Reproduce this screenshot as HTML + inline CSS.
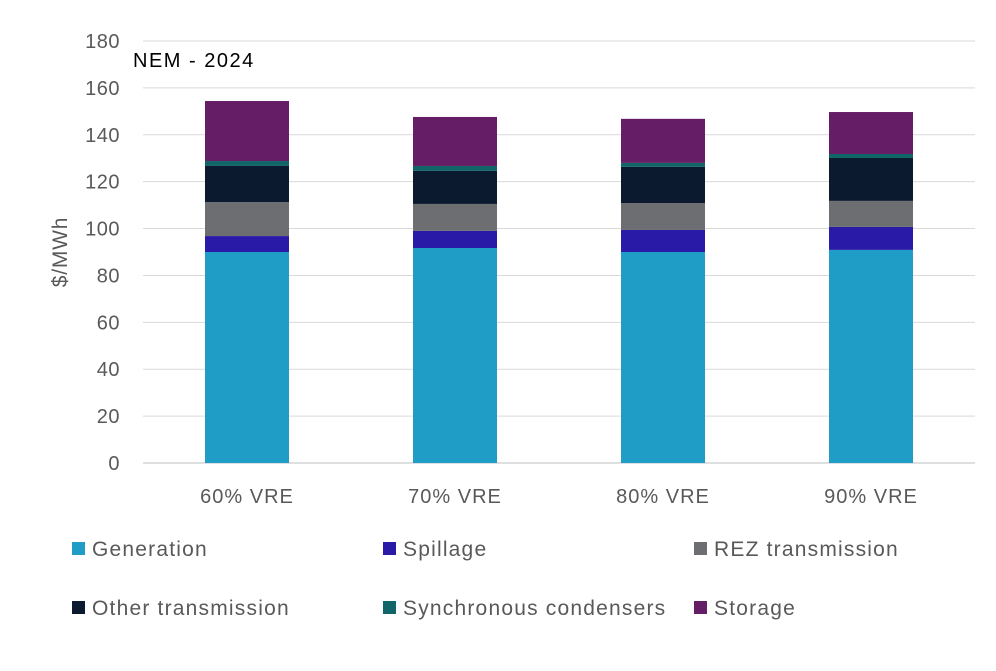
<!DOCTYPE html>
<html><head><meta charset="utf-8"><style>
body{margin:0;background:#fff;}
svg text{font-family:"Liberation Sans",sans-serif;}
</style></head><body>
<svg width="996" height="666" xmlns="http://www.w3.org/2000/svg" id="chart">
<g id="grid"></g><g id="bars"></g><g id="labels"></g>
<text x="133" y="67" font-size="20" letter-spacing="1.5" fill="#000">NEM - 2024</text>
<text transform="translate(67,252) rotate(-90)" text-anchor="middle" font-size="21" letter-spacing="0.8" fill="#595959">$/MWh</text>
<g id="legend"></g>
</svg>
<script>
const categories=["60% VRE","70% VRE","80% VRE","90% VRE"];
const seriesNames=["Generation","Spillage","REZ transmission","Other transmission","Synchronous condensers","Storage"];
const generation=[90,91.7,90,90.9];
const spillage=[6.8,7.3,9.4,9.8];
const rezTransmission=[14.5,11.5,11.5,11.1];
const otherTransmission=[15.4,14.1,15.4,18.3];
const syncCondensers=[2.1,2.1,1.7,1.7];
const storage=[25.6,20.9,18.8,17.9];
const yTicks=[0,20,40,60,80,100,120,140,160,180];
const series=[generation,spillage,rezTransmission,otherTransmission,syncCondensers,storage];
const colors=["#1f9dc6","#2a1aa8","#6d6e72","#0b1a2e","#116468","#651d66"];
const NS="http://www.w3.org/2000/svg";
const x0=143,x1=975,yBase=463,yTop=41;
const y=v=>yBase-(v/180)*(yBase-yTop);
const band=(x1-x0)/categories.length;
const xc=i=>x0+band*(i+0.5);
const bw=84;
function mk(t,a,p){const e=document.createElementNS(NS,t);for(const k in a)e.setAttribute(k,a[k]);p.appendChild(e);return e;}
const grid=document.getElementById('grid');
yTicks.forEach(t=>{
  const l=mk('line',{x1:x0,x2:x1,y1:y(t),y2:y(t),stroke:t===0?'#bfbfbf':'#d9d9d9','stroke-width':1},grid);
  
  
  const tx=mk('text',{x:120,y:y(t)+7,'text-anchor':'end','font-size':20,'letter-spacing':0.5,fill:'#595959'},grid);
  tx.textContent=t;
  
  
});
const bars=document.getElementById('bars');
categories.forEach((c,i)=>{
  let cum=0;
  series.forEach((s,j)=>{
    const r=mk('rect',{x:xc(i)-bw/2,y:y(cum+s[i]),width:bw,height:y(cum)-y(cum+s[i]),fill:colors[j]},bars);
    
    
    cum+=s[i];
  });
  const tx=mk('text',{x:xc(i),y:503,'text-anchor':'middle','font-size':20,'letter-spacing':1,fill:'#595959'},document.getElementById('labels'));
  tx.textContent=c;
  
  
});
const lg=document.getElementById('legend');
const lx=[72,383,694],ly=[549,608];
seriesNames.forEach((n,j)=>{
  const X=lx[j%3],Y=ly[Math.floor(j/3)];
  const g=mk('g',{},lg);
  
  
  mk('rect',{x:X,y:Y-7,width:13,height:13,fill:colors[j]},g);
  const t=mk('text',{x:X+20,y:Y+7,'font-size':21,'letter-spacing':1.2,fill:'#595959'},g);
  t.textContent=n;
});
</script>
</body></html>
